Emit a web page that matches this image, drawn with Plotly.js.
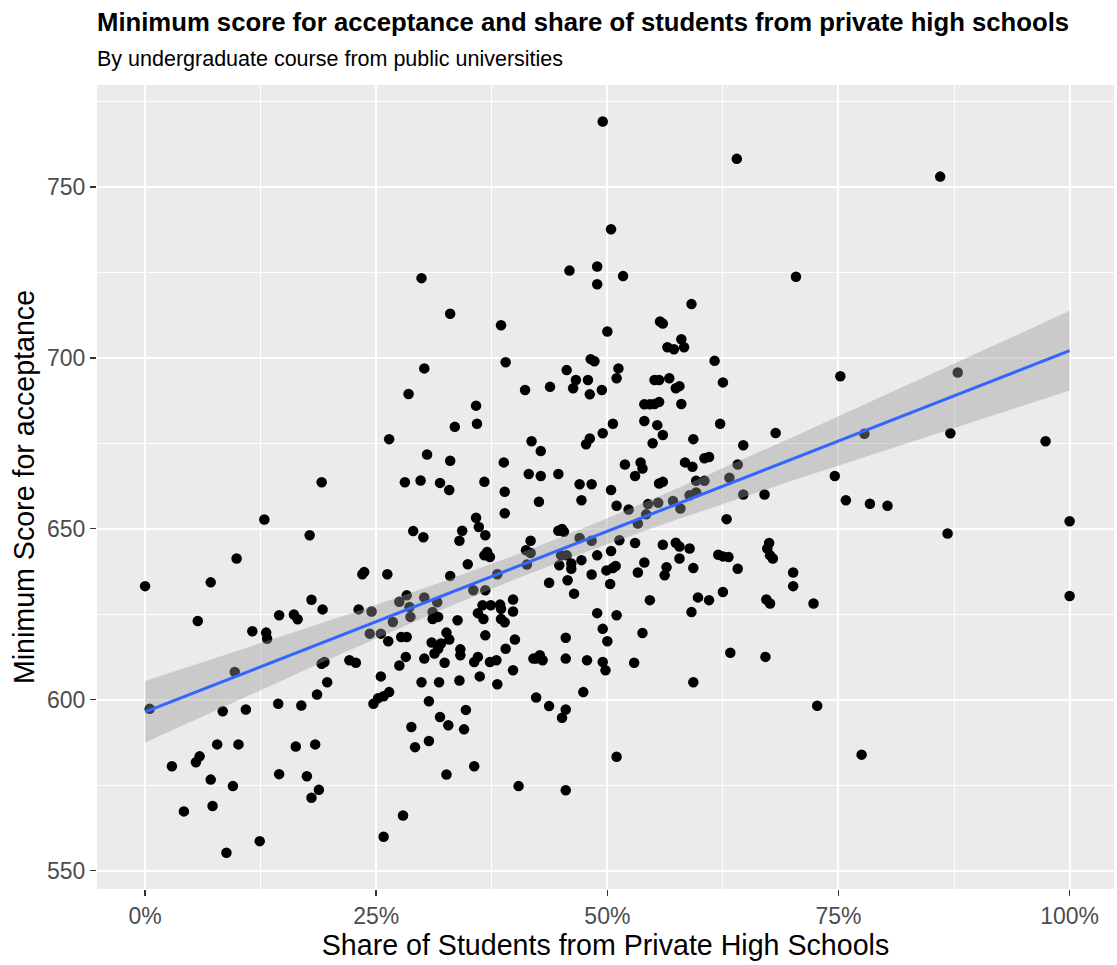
<!DOCTYPE html>
<html>
<head>
<meta charset="utf-8">
<script src="https://cdn.plot.ly/plotly-3.0.1.min.js"></script>
<style>
  html, body { margin: 0; padding: 0; background: #ffffff; }
  #chart { width: 1117px; height: 965px; }
</style>
</head>
<body>
<div id="chart"></div>
<script>
// Share of students from private high schools (fraction 0-1)
const share = [
  0.299,
  0.495, 0.640, 0.504, 0.459, 0.489, 0.489, 0.517, 0.330, 0.385, 0.500, 0.591, 0.557, 0.560, 0.580, 0.565, 0.572, 0.583,
  0.860, 0.704,
  0.302, 0.285, 0.264, 0.305, 0.281, 0.298, 0.191, 0.129, 0.178, 0.290, 0.301, 0.099, 0.071, 0.000, 0.235, 0.237,
  0.262, 0.180, 0.192, 0.231, 0.245, 0.145, 0.161, 0.165, 0.057, 0.283, 0.275, 0.302, 0.286, 0.268, 0.287, 0.311, 0.311,
  0.390, 0.482, 0.486, 0.456, 0.512, 0.510, 0.466, 0.463, 0.479, 0.481, 0.494, 0.438, 0.411, 0.616, 0.625, 0.551,
  0.556, 0.567, 0.574, 0.578, 0.540, 0.546, 0.551, 0.556, 0.580, 0.358, 0.359, 0.335, 0.506, 0.495, 0.540, 0.554,
  0.560, 0.593, 0.549, 0.622, 0.418, 0.428, 0.481, 0.477, 0.682, 0.647, 0.330, 0.388, 0.519, 0.536, 0.538, 0.530,
  0.584, 0.592, 0.605, 0.610, 0.641, 0.415, 0.428, 0.447, 0.367, 0.319, 0.329, 0.470, 0.483, 0.556, 0.560, 0.596,
  0.605, 0.632, 0.389, 0.504, 0.472, 0.426, 0.670, 0.647, 0.589, 0.596, 0.571, 0.579, 0.544, 0.555, 0.510, 0.523,
  0.542, 0.533, 0.389, 0.358, 0.361, 0.368, 0.343, 0.340, 0.629, 0.447, 0.451, 0.453, 0.470, 0.417, 0.483, 0.513,
  0.530, 0.560, 0.574, 0.578, 0.589, 0.412, 0.417, 0.370, 0.373, 0.367, 0.489, 0.504, 0.450, 0.456, 0.578, 0.620,
  0.625, 0.631, 0.675, 0.673, 0.676, 0.679, 0.349, 0.413, 0.448, 0.461, 0.472, 0.461, 0.499, 0.506, 0.509, 0.540,
  0.533, 0.564, 0.562, 0.593, 0.641, 0.330, 0.381, 0.483, 0.437, 0.457, 0.503, 0.355, 0.368, 0.464, 0.625, 0.546,
  0.598, 0.610, 0.672, 0.676, 0.398, 0.365, 0.374, 0.384, 0.385, 0.398, 0.360, 0.366, 0.385, 0.389, 0.338, 0.489,
  0.510, 0.591, 0.316, 0.317,
  0.752, 0.879, 0.778, 0.871, 0.974, 0.746, 0.758, 0.784, 0.803, 1.000, 0.868, 0.701, 0.701, 0.723, 1.000,
  0.116, 0.131, 0.132, 0.243, 0.255, 0.263, 0.277, 0.283, 0.310, 0.302, 0.313, 0.282, 0.275, 0.221, 0.228, 0.191,
  0.194, 0.097, 0.197, 0.255, 0.299, 0.186, 0.264, 0.258, 0.252, 0.247, 0.005, 0.084, 0.109, 0.144, 0.169, 0.307,
  0.288, 0.307, 0.292, 0.078, 0.101, 0.163, 0.184, 0.059, 0.055, 0.029, 0.071, 0.095, 0.145, 0.175, 0.188, 0.180,
  0.042, 0.073, 0.279, 0.258, 0.124, 0.088,
  0.326, 0.329, 0.320, 0.317, 0.368, 0.400, 0.341, 0.341, 0.324, 0.360, 0.356, 0.373, 0.380, 0.390, 0.398, 0.318,
  0.340, 0.362, 0.381, 0.423, 0.427, 0.430, 0.420, 0.455, 0.455, 0.478, 0.495, 0.500, 0.495, 0.498, 0.538, 0.529,
  0.474, 0.593, 0.633, 0.671, 0.423, 0.437, 0.455, 0.451, 0.347, 0.319, 0.328, 0.345, 0.510, 0.356, 0.326, 0.404,
  0.455,
  0.727, 0.775
];

// Minimum score for acceptance (same order)
const minScore = [
  723.3,
  769.1, 758.2, 737.6, 725.5, 726.7, 721.5, 723.9, 712.9, 709.5, 707.7, 715.7, 710.6, 710.0, 705.4, 703.1, 702.5, 703.1,
  753.0, 723.7,
  696.9, 689.4, 676.2, 671.7, 663.6, 664.1, 663.6, 652.7, 648.1, 649.3, 647.5, 641.3, 634.3, 633.2, 636.7, 637.3,
  636.7, 629.2, 626.4, 626.4, 625.8, 624.7, 624.9, 623.5, 623.0, 630.5, 628.6, 629.9, 627.1, 622.7, 624.2, 625.6, 623.6,
  698.7, 699.6, 699.0, 696.4, 696.9, 694.0, 693.5, 691.1, 693.5, 689.3, 690.6, 691.5, 690.6, 699.1, 692.8, 693.5,
  693.5, 694.0, 691.1, 691.7, 686.4, 686.4, 686.5, 687.1, 686.5, 686.0, 680.7, 679.8, 680.7, 677.9, 681.5, 680.3,
  677.4, 676.2, 675.0, 680.7, 675.6, 672.7, 676.4, 674.7, 678.0, 674.4, 669.9, 669.4, 668.8, 669.4, 667.6, 665.4,
  669.4, 668.1, 670.6, 671.0, 668.8, 666.0, 665.4, 666.0, 663.7, 663.4, 661.3, 663.0, 663.0, 663.2, 663.7, 664.0,
  664.0, 664.9, 660.8, 661.3, 658.3, 657.9, 660.0, 660.0, 659.8, 660.6, 658.1, 655.9, 657.2, 657.6, 656.7, 655.6,
  654.2, 651.5, 654.5, 653.2, 650.5, 648.1, 649.4, 646.5, 652.8, 649.4, 649.9, 649.1, 647.3, 646.5, 646.5, 646.6,
  645.8, 645.3, 645.9, 644.8, 644.2, 643.7, 642.9, 643.2, 641.7, 642.2, 642.2, 643.5, 642.2, 642.2, 641.3, 642.4,
  641.9, 641.7, 645.8, 644.2, 642.2, 641.3, 639.6, 639.5, 639.3, 639.8, 640.8, 638.3, 637.8, 638.5, 639.1, 640.1,
  637.2, 638.7, 636.4, 638.5, 638.3, 636.2, 636.7, 636.6, 634.2, 634.9, 633.8, 632.0, 632.0, 631.0, 631.5, 629.1,
  629.9, 629.1, 629.3, 628.1, 629.3, 627.6, 627.6, 627.8, 626.6, 625.8, 625.3, 623.6, 623.6, 622.6, 623.2, 625.3,
  624.7, 625.6, 628.5, 624.2,
  694.6, 695.7, 677.8, 677.9, 675.6, 665.4, 658.3, 657.3, 656.7, 652.2, 648.6, 637.2, 633.2, 628.1, 630.3,
  620.0, 619.6, 617.8, 619.3, 619.3, 617.1, 618.3, 618.3, 616.7, 612.0, 613.5, 612.5, 610.0, 611.5, 610.8, 610.5,
  611.0, 608.1, 605.1, 606.8, 605.1, 601.5, 602.2, 601.0, 600.4, 598.8, 597.3, 596.6, 597.1, 598.8, 598.3, 599.5,
  592.0, 587.9, 586.1, 586.9, 586.9, 586.3, 586.9, 583.4, 581.7, 580.5, 576.6, 574.7, 578.2, 577.6, 573.6, 571.3,
  567.3, 568.9, 566.1, 559.9, 558.6, 555.2,
  619.6, 617.6, 616.4, 614.9, 618.8, 617.6, 614.7, 613.0, 610.8, 612.5, 611.0, 611.0, 611.5, 614.9, 608.6, 605.1,
  605.6, 606.8, 604.5, 612.0, 613.0, 611.5, 612.0, 618.1, 612.0, 611.5, 620.7, 617.1, 611.0, 608.6, 619.5, 610.8,
  602.2, 605.1, 613.7, 612.5, 600.6, 598.1, 597.1, 594.7, 597.0, 594.9, 592.5, 591.3, 583.3, 580.5, 578.1, 574.7,
  573.5,
  598.2, 583.9
];

const xTickVals = [0, 0.25, 0.5, 0.75, 1];
const xTickText = ['0%', '25%', '50%', '75%', '100%'];
const yTickVals = [550, 600, 650, 700, 750];

// Linear model fit (like geom_smooth(method = "lm")) with 95% confidence band
const n = Math.min(share.length, minScore.length);
let sx = 0, sy = 0;
for (let i = 0; i < n; i++) { sx += share[i]; sy += minScore[i]; }
const mx = sx / n, my = sy / n;
let sxx = 0, sxy = 0;
for (let i = 0; i < n; i++) { sxx += (share[i] - mx) ** 2; sxy += (share[i] - mx) * (minScore[i] - my); }
const slope = sxy / sxx, intercept = my - slope * mx;
let sse = 0;
for (let i = 0; i < n; i++) { const r = minScore[i] - (intercept + slope * share[i]); sse += r * r; }
const sigma = Math.sqrt(sse / (n - 2));
const tq = 1.967;
const xmin = Math.min(...share.slice(0, n)), xmax = Math.max(...share.slice(0, n));
const fitX = [], fitY = [], upY = [], loY = [];
for (let k = 0; k < 80; k++) {
  const x = xmin + (xmax - xmin) * k / 79;
  const yhat = intercept + slope * x;
  const se = sigma * Math.sqrt(1 / n + (x - mx) ** 2 / sxx);
  fitX.push(x); fitY.push(yhat); upY.push(yhat + tq * se); loY.push(yhat - tq * se);
}
const bandX = fitX.concat(fitX.slice().reverse());
const bandY = upY.concat(loY.slice().reverse());

const FONT = '"Liberation Sans", Arial, sans-serif';

const traces = [
  {
    type: 'scatter', mode: 'markers', x: share.slice(0, n), y: minScore.slice(0, n),
    marker: { color: '#000000', size: 10.5, line: { width: 0 } },
    hoverinfo: 'skip', showlegend: false
  },
  {
    type: 'scatter', mode: 'lines', x: bandX, y: bandY, fill: 'toself',
    fillcolor: 'rgba(153,153,153,0.4)', line: { width: 0 },
    hoverinfo: 'skip', showlegend: false
  },
  {
    type: 'scatter', mode: 'lines', x: fitX, y: fitY,
    line: { color: '#3366FF', width: 3 },
    hoverinfo: 'skip', showlegend: false
  }
];

const layout = {
  width: 1117, height: 965,
  paper_bgcolor: '#FFFFFF', plot_bgcolor: '#EBEBEB',
  margin: { l: 97, r: 3, t: 85, b: 76 },
  showlegend: false,
  hovermode: false,
  font: { family: FONT, color: '#000000' },
  title: {
    text: '<b>Minimum score for acceptance and share of students from private high schools</b>',
    font: { family: FONT, size: 25.7, color: '#000000' },
    xref: 'paper', x: 0, xanchor: 'left',
    yref: 'container', y: 1 - 22 / 965, yanchor: 'middle'
  },
  annotations: [
    {
      text: 'By undergraduate course from public universities',
      xref: 'paper', x: 0, xanchor: 'left', xshift: -2,
      yref: 'paper', y: 1, yanchor: 'bottom', yshift: 12,
      showarrow: false, align: 'left',
      font: { family: FONT, size: 21.5, color: '#000000' }
    }
  ],
  xaxis: {
    range: [-0.052, 1.048],
    tickmode: 'array', tickvals: xTickVals, ticktext: xTickText,
    ticks: 'outside', ticklen: 6, tickwidth: 1.5, tickcolor: '#333333',
    tickfont: { family: FONT, size: 23, color: '#4D4D4D' },
    showgrid: true, gridcolor: '#FFFFFF', gridwidth: 2,
    minor: { dtick: 0.125, tick0: 0, showgrid: true, gridcolor: '#FFFFFF', gridwidth: 1, ticks: '' },
    zeroline: false, showline: false,
    title: { text: 'Share of Students from Private High Schools', font: { family: FONT, size: 28.6, color: '#000000' }, standoff: 5 }
  },
  yaxis: {
    range: [544.6, 779.8],
    tickmode: 'array', tickvals: yTickVals,
    ticks: 'outside', ticklen: 6, tickwidth: 1.5, tickcolor: '#333333',
    tickfont: { family: FONT, size: 23, color: '#4D4D4D' },
    showgrid: true, gridcolor: '#FFFFFF', gridwidth: 2,
    minor: { dtick: 25, tick0: 550, showgrid: true, gridcolor: '#FFFFFF', gridwidth: 1, ticks: '' },
    zeroline: false, showline: false,
    title: { text: 'Minimum Score for acceptance', font: { family: FONT, size: 28.6, color: '#000000' }, standoff: 4 }
  }
};

Plotly.newPlot('chart', traces, layout, { displayModeBar: false, staticPlot: true });
</script>
</body>
</html>
